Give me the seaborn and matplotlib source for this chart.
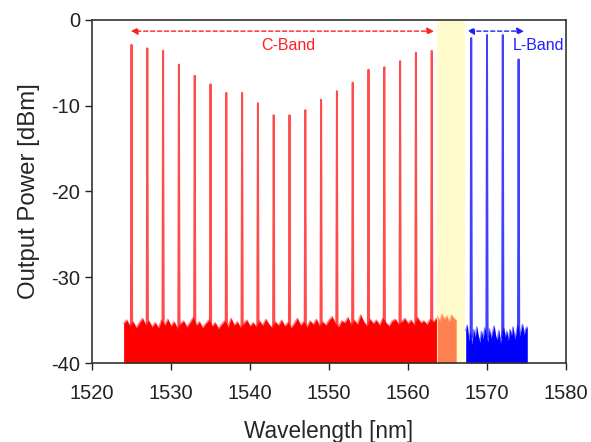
import numpy as np
import pandas as pd
import matplotlib
matplotlib.use("Agg")
import matplotlib.pyplot as plt
import seaborn as sns

# channel wavelengths [nm] and peak powers [dBm]
c_wl = [1525, 1527, 1529, 1531, 1533, 1535, 1537, 1539, 1541, 1543,
        1545, 1547, 1549, 1551, 1553, 1555, 1557, 1559, 1561, 1563]
c_pow = [-2.9, -3.3, -3.6, -5.2, -6.5, -7.5, -8.5, -8.5, -9.7, -11.1,
         -11.1, -10.5, -9.3, -8.3, -7.3, -5.8, -5.5, -4.8, -3.8, -3.6]
l_wl = [1568, 1570, 1572, 1574]
l_pow = [-2.1, -1.75, -1.75, -4.6]

# ASE noise floor tops, read every 0.4 / 0.3 / 0.2 nm
red_start, red_step = 1524.0, 0.4
red_noise = [-35.4, -35.0, -35.7, -35.2, -35.9, -35.3, -34.8, -35.6, -35.1, -35.8,
             -35.3, -35.9, -35.0, -35.6, -34.9, -35.7, -35.2, -36.0, -35.4, -35.1,
             -35.8, -35.3, -34.7, -35.6, -35.2, -35.9, -35.4, -35.0, -35.7, -35.3,
             -36.0, -35.5, -35.1, -35.8, -34.8, -35.6, -35.2, -35.9, -35.4, -35.0,
             -35.7, -35.3, -35.8, -35.1, -35.6, -34.9, -35.5, -35.9, -35.2, -35.6,
             -35.0, -35.7, -35.3, -35.9, -35.4, -34.8, -35.6, -35.2, -35.8, -35.1,
             -35.5, -34.9, -35.7, -35.2, -35.6, -35.0, -34.6, -35.4, -35.8, -35.1,
             -35.3, -34.7, -35.6, -35.0, -35.5, -34.4, -35.2, -35.7, -34.9, -35.4,
             -35.0, -35.6, -34.8, -35.3, -35.7, -35.1, -34.9, -35.5, -35.2, -34.8,
             -35.4, -35.0, -35.6, -34.7, -35.3, -35.1, -35.5, -34.9, -35.2, -34.8]
org_start, org_step = 1563.7, 0.3
org_noise = [-34.6, -35.1, -34.3, -34.9, -34.5, -35.2, -34.4, -34.8, -35.0]
blu_start, blu_step = 1567.3, 0.2
blu_noise = [-36.2, -35.6, -37.4, -36.5, -37.8, -36.1, -37.0, -35.8, -36.9, -37.6,
             -36.3, -37.2, -35.9, -36.8, -37.5, -36.0, -37.1, -36.4, -35.7, -36.9,
             -37.3, -36.2, -37.7, -36.6, -35.9, -37.0, -36.3, -37.4, -36.1, -36.8,
             -35.8, -37.2, -36.5, -35.6, -36.9, -36.2, -35.5, -36.7, -36.0, -35.8]

guard_band = (1563.7, 1567.2)
c_arrow = (1524.9, 1563.3)
l_arrow = (1567.5, 1574.7)

sns.set_style("ticks")
plt.rcParams['font.family'] = ['Liberation Sans', 'DejaVu Sans']
plt.rcParams['axes.unicode_minus'] = False

fig = plt.figure(figsize=(5.91, 4.42), dpi=100)
ax = fig.add_axes([0.1557, 0.1787, 0.8020, 0.7761])

ax.axvspan(*guard_band, color='#FFFBCC', lw=0, zorder=0)


def noise_df(start, step, vals):
    x = start + step * np.arange(len(vals))
    return pd.DataFrame({'wl': x, 'dbm': vals})


def peak_df(wls, pows, floor):
    rows = []
    for i, (w, p) in enumerate(zip(wls, pows)):
        for dx, y in [(-0.08, floor), (0, p), (0.08, floor)]:
            rows.append((i, w + dx, y))
    return pd.DataFrame(rows, columns=['peak', 'wl', 'dbm'])


for start, step, vals, col in [(red_start, red_step, red_noise, '#FF0000'),
                               (org_start, org_step, org_noise, '#FF8050'),
                               (blu_start, blu_step, blu_noise, '#0000FF')]:
    d = noise_df(start, step, vals)
    ax.fill_between(d['wl'], -40, d['dbm'], color=col, lw=0, zorder=2)
    sns.lineplot(data=d, x='wl', y='dbm', color=col, lw=1.0, alpha=0.5,
                 ax=ax, zorder=2)

sns.lineplot(data=peak_df(c_wl, c_pow, -36), x='wl', y='dbm', units='peak',
             estimator=None, sort=False, color='#FF0000', lw=1.4, alpha=0.7,
             ax=ax, zorder=3)
sns.lineplot(data=peak_df(l_wl, l_pow, -37), x='wl', y='dbm', units='peak',
             estimator=None, sort=False, color='#0000FF', lw=1.4, alpha=0.75,
             ax=ax, zorder=3)

# band arrows and labels
for (x0, x1), col, label, tx, ha in [(c_arrow, '#FF2020', 'C-Band', 1544.8, 'center'),
                                     (l_arrow, '#2020FF', 'L-Band', 1573.3, 'left')]:
    ax.annotate('', xy=(x0, -1.3), xytext=(x1, -1.3),
                arrowprops=dict(arrowstyle='<|-|>', color=col, lw=1.0, ls=(0, (3, 2)),
                                mutation_scale=10, shrinkA=0, shrinkB=0))
    ax.text(tx, -3.0, label, color=col, fontsize=11.5, ha=ha, va='center')

ax.set_xlim(1520, 1580)
ax.set_ylim(-40, 0)
ax.set_xticks(np.arange(1520, 1581, 10))
ax.set_yticks(np.arange(-40, 1, 10))
ax.tick_params(direction='out', length=5, width=1, labelsize=14.5, colors='#222222')
ax.tick_params(axis='x', pad=10)
for s in ax.spines.values():
    s.set_visible(True)
    s.set_linewidth(1.2)
    s.set_color('#333333')
ax.set_xlabel('Wavelength [nm]', fontsize=16.3, labelpad=12)
ax.set_ylabel('Output Power [dBm]', fontsize=17.3, labelpad=8)

fig.savefig('out.png', dpi=100)
